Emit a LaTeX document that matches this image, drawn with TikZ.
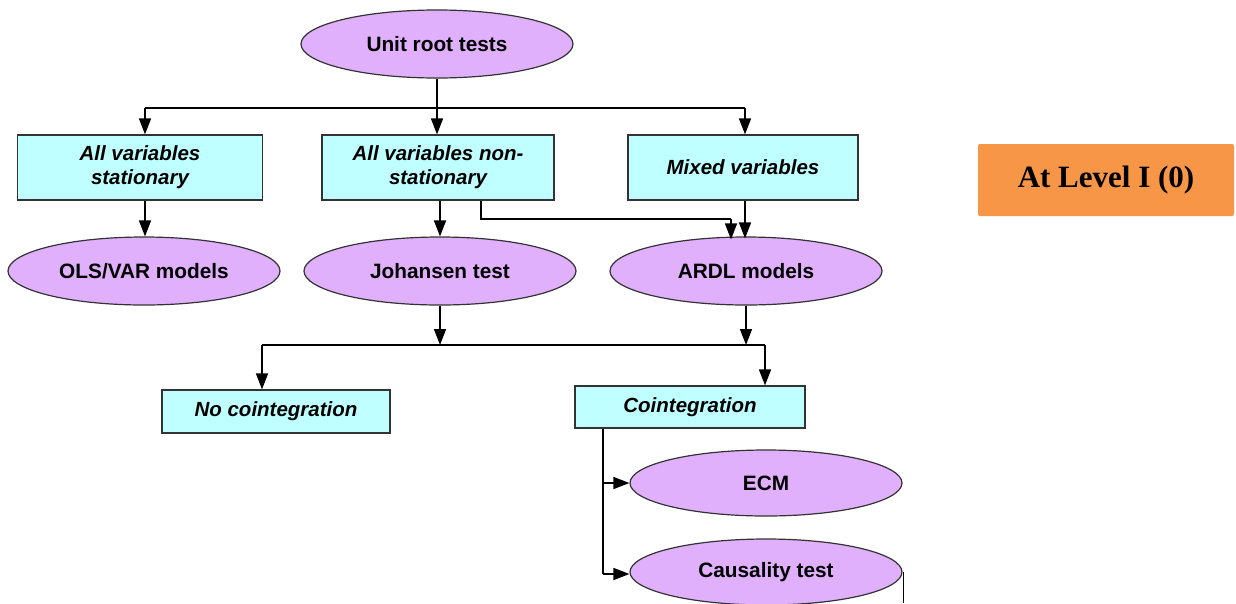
\documentclass[tikz,border=0pt]{standalone}
\usepackage{fontspec}
\setmainfont{Liberation Sans}
\newfontfamily\timesf{Liberation Serif}
\usetikzlibrary{shapes.geometric,arrows.meta}
\definecolor{ellfill}{HTML}{E0B0FC}
\definecolor{boxfill}{HTML}{BFFFFF}
\definecolor{orangefill}{HTML}{F79646}
\definecolor{edge}{HTML}{333333}
\tikzset{
  ell/.style={ellipse, draw=edge, line width=1.2pt, fill=ellfill, minimum width=272pt, minimum height=68pt, inner sep=0pt, font=\fontsize{20.8}{24}\selectfont\bfseries},
  rbox/.style={rectangle, draw=edge, line width=1.2pt, fill=boxfill, inner sep=0pt, align=center, font=\fontsize{20.5}{24}\selectfont\bfseries\itshape},
  obox/.style={rectangle, rounded corners=2pt, fill=orangefill, inner sep=0pt, minimum width=256pt, minimum height=72pt, font=\timesf\fontsize{31}{34}\selectfont\bfseries},
  conn/.style={line width=1.5pt, black},
  arr/.style={conn, -{Triangle[length=16pt,width=12pt]}}
}
\begin{document}
\begin{tikzpicture}[x=1pt,y=-1pt]
\useasboundingbox (0,0) rectangle (1236,603);
% nodes
\node[ell] (root) at (437,44) {Unit root tests};
\node[rbox, minimum width=245pt, minimum height=65pt] (b1) at (140,167.5) {All variables\\stationary};
\node[rbox, minimum width=232pt, minimum height=65pt] (b2) at (438,167.5) {All variables non-\\stationary};
\node[rbox, minimum width=230pt, minimum height=65pt] (b3) at (743,167.5) {Mixed variables};
\node[ell] (ols) at (144,271) {OLS/VAR models};
\node[ell] (joh) at (440,271) {Johansen test};
\node[ell] (ardl) at (746,271) {ARDL models};
\node[rbox, minimum width=228pt, minimum height=43pt] (noc) at (276,411.5) {No cointegration};
\node[rbox, minimum width=230pt, minimum height=42pt] (coi) at (690,407) {Cointegration};
\node[ell, minimum height=66pt] (ecm) at (766,483) {ECM};
\node[ell, minimum height=66pt] (caus) at (766,572) {Causality test};
\node[obox] (lvl) at (1106,180) {At Level I (0)};
% junction coordinates
\coordinate (h1) at (437,108);
\coordinate (h1l) at (145,108);
\coordinate (h1r) at (745,108);
\coordinate (s1) at (481,219);
\coordinate (s2) at (731,219);
\coordinate (h2a) at (440,345);
\coordinate (h2b) at (746,345);
\coordinate (h2l) at (262,345);
\coordinate (h2r) at (765,345);
\coordinate (v1) at (603,483);
\coordinate (v2) at (603,574);
\coordinate (st1) at (903,572);
\coordinate (st2) at (903,603);
% connectors
\draw[conn] (root.south) -- (h1);
\draw[conn] (h1l) -- (h1r);
\draw[arr] (h1l) -- (h1l |- b1.north);
\draw[arr] (h1) -- (h1 |- b2.north);
\draw[arr] (h1r) -- (h1r |- b3.north);
\draw[arr] (b1.south -| h1l) -- (ols.north -| h1l);
\draw[arr] (b2.south -| joh.north) -- (joh.north);
\draw[arr] (b3.south -| h1r) -- ([yshift=-2pt]ardl.north -| h1r);
\draw[conn] (b2.south -| s1) -- (s1) -- (s2);
\draw[arr] (s2) -- ([yshift=-3pt]ardl.north -| s2);
\draw[arr] (joh.south) -- (h2a);
\draw[arr] (ardl.south) -- (h2b);
\draw[conn] (h2l) -- (h2r);
\draw[arr] (h2l) -- (h2l |- noc.north);
\draw[arr] (h2r) -- (h2r |- coi.north);
\draw[conn] (coi.south -| v1) -- (v2);
\draw[arr] (v1) -- (ecm.west);
\draw[arr] (v2) -- (caus.west |- v2);
\draw[line width=0.8pt] (st1) -- (st2);
\end{tikzpicture}
\end{document}
